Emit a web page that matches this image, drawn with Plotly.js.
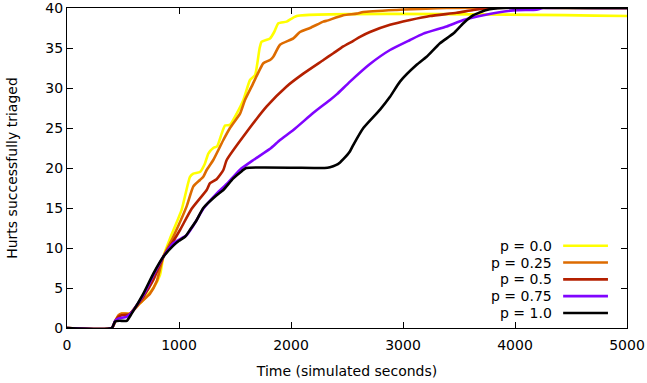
<!DOCTYPE html>
<html>
<head>
<meta charset="utf-8">
<script src="https://cdn.plot.ly/plotly-3.0.1.min.js"></script>
<style>html,body{margin:0;padding:0;background:#fff;}#chart{width:647px;height:383px;}</style>
</head>
<body>
<div id="chart"></div>
<script>
var seriesNames = ["p = 0.0", "p = 0.25", "p = 0.5", "p = 0.75", "p = 1.0"];
var seriesColors = ["#ffff00", "#dd6b00", "#b42000", "#8004ff", "#000000"];

var x_p00 = [0, 400, 430, 460, 490, 560, 600, 680, 771, 830, 860, 920, 1024, 1098, 1128, 1187, 1230, 1262, 1306, 1340, 1381, 1411, 1455, 1515, 1575, 1634, 1679, 1720, 1738, 1813, 1850, 1887, 1961, 2051, 5000];
var y_p00 = [0, 0, 0.8, 1.5, 1.8, 1.8, 2.4, 3.5, 5.0, 6.6, 8.9, 11.2, 14.8, 18.9, 19.3, 19.5, 20.5, 21.8, 22.5, 22.7, 24.3, 25.3, 25.4, 26.8, 28.5, 31.0, 31.6, 35.0, 35.8, 36.2, 37.0, 38.1, 38.3, 39.0, 39.0];

var x_p025 = [0, 400, 430, 460, 490, 560, 600, 652, 741, 800, 860, 949, 1068, 1128, 1187, 1217, 1247, 1306, 1396, 1455, 1545, 1589, 1649, 1700, 1753, 1813, 1842, 1902, 2021, 2080, 2170, 2289, 2318, 2467, 2586, 2646, 2943, 3390, 5000];
var y_p025 = [0, 0, 0.9, 1.6, 1.8, 1.8, 2.3, 3.1, 4.3, 5.8, 8.9, 11.4, 15.2, 17.7, 18.5, 18.9, 19.75, 21.0, 23.5, 25.0, 26.8, 28.5, 30.2, 31.7, 33.1, 33.5, 33.9, 35.4, 36.2, 37.0, 37.5, 38.3, 38.4, 39.1, 39.3, 39.5, 39.75, 40, 40];

var x_p05 = [0, 400, 430, 460, 490, 560, 600, 682, 771, 860, 920, 1009, 1113, 1247, 1277, 1336, 1396, 1426, 1604, 1783, 1961, 2110, 2289, 2378, 2467, 2557, 2616, 2705, 2884, 3063, 3241, 3479, 3628, 3777, 5000];
var y_p05 = [0, 0, 0.8, 1.4, 1.6, 1.7, 2.4, 3.9, 6.0, 8.9, 10.2, 12.25, 14.9, 17.25, 18.1, 18.6, 19.75, 21.0, 24.5, 27.7, 30.2, 31.8, 33.5, 34.35, 35.2, 35.9, 36.4, 37.0, 37.9, 38.5, 39.0, 39.4, 39.75, 40, 40];

var x_p075 = [0, 400, 430, 460, 530, 580, 682, 771, 860, 949, 1068, 1128, 1217, 1336, 1426, 1545, 1664, 1813, 1902, 2021, 2200, 2348, 2408, 2527, 2705, 2884, 3063, 3182, 3390, 3539, 3717, 3985, 4193, 4250, 5000];
var y_p075 = [0, 0, 0.9, 1.2, 1.4, 2.0, 4.1, 6.6, 8.9, 10.6, 11.6, 12.8, 14.9, 16.8, 18.0, 19.8, 21.0, 22.4, 23.5, 24.75, 26.9, 28.5, 29.2, 30.8, 33.0, 34.75, 36.0, 36.8, 37.7, 38.5, 39.1, 39.7, 39.8, 40, 40];

var x_p10 = [0, 400, 429, 470, 533, 577, 682, 771, 860, 949, 1000, 1054, 1100, 1158, 1217, 1336, 1396, 1485, 1560, 1600, 2300, 2348, 2400, 2438, 2467, 2527, 2557, 2646, 2795, 2884, 2973, 3122, 3211, 3330, 3449, 3539, 3628, 3747, 3893, 5000];
var y_p10 = [0, 0, 0.8, 0.9, 0.9, 1.8, 4.3, 6.8, 8.9, 10.3, 10.9, 11.4, 12.3, 13.5, 15.0, 16.6, 17.25, 18.7, 19.6, 20, 20, 20.1, 20.35, 20.7, 21.1, 22.1, 22.9, 25.0, 27.3, 28.9, 30.8, 32.9, 33.9, 35.6, 36.8, 38.1, 39.1, 39.75, 40, 40];

var xs = [x_p00, x_p025, x_p05, x_p075, x_p10];
var ys = [y_p00, y_p025, y_p05, y_p075, y_p10];

var xTicks = [0, 1000, 2000, 3000, 4000, 5000];
var yTicks = [0, 5, 10, 15, 20, 25, 30, 35, 40];

var FONT = "DejaVu Sans, sans-serif";
var FS = 14;

var traces = seriesNames.map(function (name, i) {
  return {
    type: "scatter", mode: "lines", name: name,
    x: xs[i], y: ys[i],
    line: {color: seriesColors[i], width: 2.6, shape: "spline", smoothing: 0.5},
    showlegend: false, hoverinfo: "skip"
  };
});

var annotations = [], shapes = [];
var legTop = 0.257, legStep = 0.0525;
seriesNames.forEach(function (name, i) {
  var yy = legTop - i * legStep;
  annotations.push({
    xref: "paper", yref: "paper", x: 0.870, y: yy, xanchor: "right", yanchor: "middle",
    text: name, showarrow: false, font: {family: FONT, size: FS, color: "#000"}
  });
  shapes.push({
    type: "line", xref: "paper", yref: "paper", x0: 0.886, x1: 0.966, y0: yy, y1: yy,
    line: {color: seriesColors[i], width: 2.6}
  });
});

var layout = {
  width: 647, height: 383,
  margin: {l: 67, r: 20, t: 8, b: 55},
  paper_bgcolor: "#fff", plot_bgcolor: "#fff",
  font: {family: FONT, size: FS, color: "#000"},
  xaxis: {
    range: [0, 5000], tickvals: xTicks, ticktext: xTicks.map(String),
    ticks: "inside", ticklen: 6, tickcolor: "#000", mirror: "ticks",
    showline: true, linecolor: "#000", linewidth: 1, showgrid: false, zeroline: false,
    ticklabeloverflow: "allow", ticklabelstandoff: 4,
    tickfont: {family: FONT, size: FS, color: "#000"},
    title: {text: "Time (simulated seconds)", font: {family: FONT, size: FS, color: "#000"}, standoff: 14}
  },
  yaxis: {
    range: [0, 40], tickvals: yTicks, ticktext: yTicks.map(String),
    ticks: "inside", ticklen: 6, tickcolor: "#000", mirror: "ticks",
    showline: true, linecolor: "#000", linewidth: 1, showgrid: false, zeroline: false,
    ticklabeloverflow: "allow",
    tickfont: {family: FONT, size: FS, color: "#000"},
    title: {text: "Hurts successfully triaged", font: {family: FONT, size: FS, color: "#000"}, standoff: 24}
  },
  annotations: annotations,
  shapes: shapes
};

Plotly.newPlot("chart", traces, layout, {staticPlot: true, displayModeBar: false});
</script>
</body>
</html>
